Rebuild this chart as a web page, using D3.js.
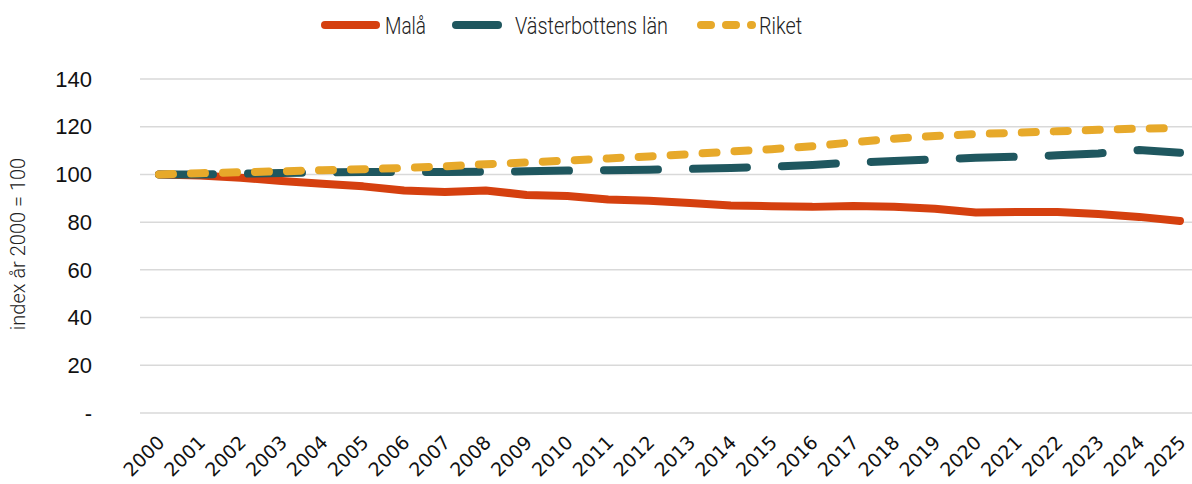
<!DOCTYPE html>
<html>
<head>
<meta charset="utf-8">
<script src="https://cdn.jsdelivr.net/npm/d3@7"></script>
<style>
  body { margin: 0; background: #fff; }
  svg { display: block; }
</style>
</head>
<body>
<div id="chart"></div>
<script>
// Befolkningsindex, år 2000 = 100
var years = d3.range(2000, 2026).map(String);
var mala = [100, 99.5, 98.6, 97.2, 96.1, 95.0, 93.3, 92.6, 93.3, 91.4, 91.0, 89.5, 89.0, 88.0, 87.0, 86.7, 86.4, 86.8, 86.5, 85.6, 84.0, 84.3, 84.3, 83.4, 82.2, 80.5];
var vasterbotten = [100, 100, 100.3, 100.6, 100.8, 101.0, 101.0, 101.0, 101.1, 101.3, 101.6, 101.8, 102.0, 102.3, 102.7, 103.2, 104.0, 105.0, 105.6, 106.3, 107.0, 107.4, 108.0, 108.8, 110.2, 109.1];
var riket = [100, 100.5, 100.9, 101.3, 101.8, 102.2, 102.7, 103.4, 104.3, 105.0, 105.8, 106.7, 107.5, 108.5, 109.6, 110.6, 111.8, 113.5, 115.0, 116.1, 116.9, 117.5, 118.1, 118.7, 119.2, 119.5];
var yTicks = [0, 20, 40, 60, 80, 100, 120, 140];

var series = [
  { name: "Malå", values: mala, color: "#d5400f", dash: null },
  { name: "Västerbottens län", values: vasterbotten, color: "#1f575f", dash: "54,35" },
  { name: "Riket", values: riket, color: "#e7a92a", dash: "14,18" }
];

var width = 1192, height = 484;

var svg = d3.select("#chart").append("svg")
  .attr("width", width)
  .attr("height", height);

// the years, last one sits close to the right edge like the original
var x = d3.scalePoint().domain(years).range([159, 1180]);
var y = d3.scaleLinear().domain([0, 140]).range([413, 79]);

// gridlines
svg.append("g").selectAll("line").data(yTicks).enter().append("line")
  .attr("x1", 140).attr("x2", width)
  .attr("y1", function(d){ return y(d); })
  .attr("y2", function(d){ return y(d); })
  .attr("stroke", "#d9d9d9")
  .attr("stroke-width", 1.5);

// y labels
svg.append("g").selectAll("text").data(yTicks).enter().append("text")
  .attr("x", 92)
  .attr("y", function(d){ return y(d); })
  .attr("dy", "0.35em")
  .attr("text-anchor", "end")
  .style("font-family", "Liberation Sans, Arial, sans-serif")
  .style("font-size", "22px")
  .attr("fill", "#111")
  .text(function(d){ return d === 0 ? "-" : d; });

// y title
svg.append("text")
  .attr("transform", "translate(25,244) rotate(-90)")
  .attr("text-anchor", "middle")
  .style("font-family", "Roboto, sans-serif")
  .style("font-weight", 300)
  .style("font-size", "20px")
  .attr("fill", "#222")
  .text("index år 2000 = 100");

// x labels
svg.append("g").selectAll("text").data(years).enter().append("text")
  .attr("transform", function(d){ return "translate(" + (x(d) - 3) + ",434) rotate(-45)"; })
  .attr("text-anchor", "end")
  .attr("dy", "0.72em")
  .style("font-family", "DejaVu Sans, sans-serif")
  .style("font-size", "19px")
  .attr("fill", "#111")
  .text(function(d){ return d; });

// lines
var line = d3.line()
  .x(function(d, i){ return x(years[i]); })
  .y(function(d){ return y(d); });

svg.append("g").selectAll("path").data(series).enter().append("path")
  .attr("d", function(d){ return line(d.values); })
  .attr("fill", "none")
  .attr("stroke", function(d){ return d.color; })
  .attr("stroke-width", 8)
  .attr("stroke-linecap", "round")
  .attr("stroke-linejoin", "round")
  .attr("stroke-dasharray", function(d){ return d.dash; });

// legend
var legendItems = [
  { s: series[0], x1: 325, x2: 376, tx: 385, tw: 41, dash: null },
  { s: series[1], x1: 456, x2: 498, tx: 515, tw: 153, dash: null },
  { s: series[2], x1: 701, x2: 752, tx: 759, tw: 43, dash: "10,15" }
];
var lg = svg.append("g").selectAll("g").data(legendItems).enter().append("g");
lg.append("line")
  .attr("x1", function(d){ return d.x1; })
  .attr("x2", function(d){ return d.x2; })
  .attr("y1", 25).attr("y2", 25)
  .attr("stroke", function(d){ return d.s.color; })
  .attr("stroke-width", 8)
  .attr("stroke-linecap", "round")
  .attr("stroke-dasharray", function(d){ return d.dash; });
lg.append("text")
  .attr("x", function(d){ return d.tx; })
  .attr("y", 25)
  .attr("dy", "0.36em")
  .attr("textLength", function(d){ return d.tw; })
  .attr("lengthAdjust", "spacingAndGlyphs")
  .style("font-family", "Roboto, sans-serif")
  .style("font-weight", 300)
  .style("font-size", "24px")
  .attr("fill", "#222")
  .text(function(d){ return d.s.name; });
</script>
</body>
</html>
